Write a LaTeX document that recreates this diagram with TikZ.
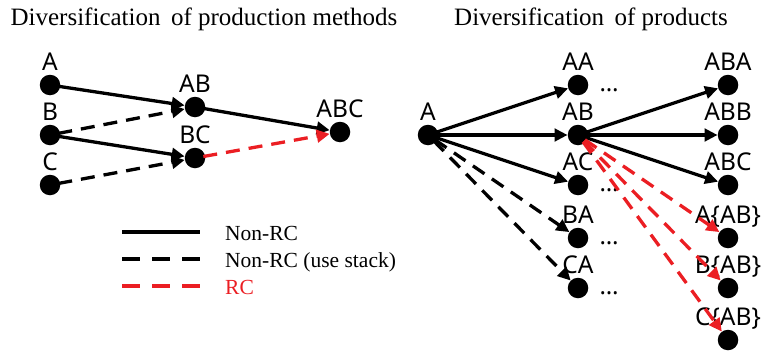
\documentclass[tikz,border=0pt]{standalone}
\usepackage{fontspec}
\setmainfont{Liberation Serif}
\newfontfamily\lblfont{Noto Sans}
\usetikzlibrary{arrows.meta}
\definecolor{rcred}{RGB}{235,30,35}
\begin{document}
\begin{tikzpicture}[x=1pt,y=-1pt,
  dotnode/.style={circle,fill=black,inner sep=0pt,minimum size=20.5pt},
  lbl/.style={anchor=base,inner sep=0pt,font=\lblfont\fontsize{24.5}{24.5}\selectfont},
  ell/.style={anchor=base,inner sep=0pt,font=\lblfont\fontsize{24}{24}\selectfont},
  ttl/.style={anchor=base,inner sep=0pt,font=\fontsize{25}{25}\selectfont},
  lgd/.style={anchor=base west,inner sep=0pt,font=\fontsize{21.5}{21.5}\selectfont},
  conn/.style={line width=3.3pt,-{Triangle[length=13pt,width=12.5pt]},shorten <=-2pt},
  solidc/.style={conn,black},
  dashc/.style={conn,black,dash pattern=on 14pt off 9pt},
  redc/.style={conn,rcred,dash pattern=on 14pt off 9pt},
  lgline/.style={line width=3.8pt},
  lgdash/.style={line width=3.8pt,dash pattern=on 18pt off 12pt}]
\useasboundingbox (0,0) rectangle (763,351);

% titles
\node[ttl] (t1) at (204,25) {Diversification\, of production methods};
\node[ttl] (t2) at (591,25) {Diversification\, of products};

% left panel dots
\node[dotnode] (A) at (50,85) {};
\node[dotnode] (B) at (50,135) {};
\node[dotnode] (C) at (50,185) {};
\node[dotnode] (AB) at (195,107) {};
\node[dotnode] (BC) at (195,158) {};
\node[dotnode] (ABC) at (340,132) {};
\node[lbl] (lA) at (50,70) {A};
\node[lbl] (lB) at (50,120) {B};
\node[lbl] (lC) at (50,170) {C};
\node[lbl] (lAB) at (195,92) {AB};
\node[lbl] (lBC) at (195,143) {BC};
\node[lbl] (lABC) at (340,117) {ABC};

\draw[solidc] (A) -- (AB);
\draw[dashc] (B) -- (AB);
\draw[solidc] (B) -- (BC);
\draw[dashc] (C) -- (BC);
\draw[solidc] (AB) -- (ABC);
\draw[redc] (BC) -- (ABC);

% legend
\coordinate (g1a) at (122,232); \coordinate (g1b) at (200,232);
\coordinate (g2a) at (122,259); \coordinate (g2b) at (200,259);
\coordinate (g3a) at (122,286); \coordinate (g3b) at (200,286);
\draw[lgline] (g1a) -- (g1b);
\draw[lgdash] (g2a) -- (g2b);
\draw[lgdash,rcred] (g3a) -- (g3b);
\node[lgd] (n1) at (225,240) {Non-RC};
\node[lgd] (n2) at (225,267) {Non-RC (use stack)};
\node[lgd,text=rcred] (n3) at (225,294) {RC};

% right panel dots
\node[dotnode] (rA) at (428,135) {};
\node[dotnode] (AA) at (578,85) {};
\node[dotnode] (rAB) at (578,135) {};
\node[dotnode] (AC) at (578,185) {};
\node[dotnode] (BA) at (578,238) {};
\node[dotnode] (CA) at (578,288) {};
\node[dotnode] (ABA) at (728,85) {};
\node[dotnode] (ABB) at (728,135) {};
\node[dotnode] (rABC) at (728,185) {};
\node[dotnode] (AAB) at (728,238) {};
\node[dotnode] (BAB) at (728,288) {};
\node[dotnode] (CAB) at (728,340) {};

\node[lbl] (lrA) at (428,120) {A};
\node[lbl] (lAA) at (578,70) {AA};
\node[lbl] (lrAB) at (578,120) {AB};
\node[lbl] (lAC) at (578,170) {AC};
\node[lbl] (lBA) at (578,223) {BA};
\node[lbl] (lCA) at (578,273) {CA};
\node[lbl] (lABA) at (728,70) {ABA};
\node[lbl] (lABB) at (728,120) {ABB};
\node[lbl] (lrABC) at (728,170) {ABC};
\node[lbl] (lAAB) at (728,223) {A\{AB\}};
\node[lbl] (lBAB) at (728,273) {B\{AB\}};
\node[lbl] (lCAB) at (728,325) {C\{AB\}};

\node[ell] (e1) at (609,91) {…};
\node[ell] (e2) at (609,191) {…};
\node[ell] (e3) at (609,244) {…};
\node[ell] (e4) at (609,294) {…};

\draw[solidc] (rA) -- (AA);
\draw[solidc] (rA) -- (rAB);
\draw[solidc] (rA) -- (AC);
\draw[dashc] (rA) -- (BA);
\draw[dashc] (rA) -- (CA);
\draw[solidc] (rAB) -- (ABA);
\draw[solidc] (rAB) -- (ABB);
\draw[solidc] (rAB) -- (rABC);
\draw[redc] (rAB) -- (AAB);
\draw[redc] (rAB) -- (BAB);
\draw[redc] (rAB) -- (CAB);
\end{tikzpicture}
\end{document}
